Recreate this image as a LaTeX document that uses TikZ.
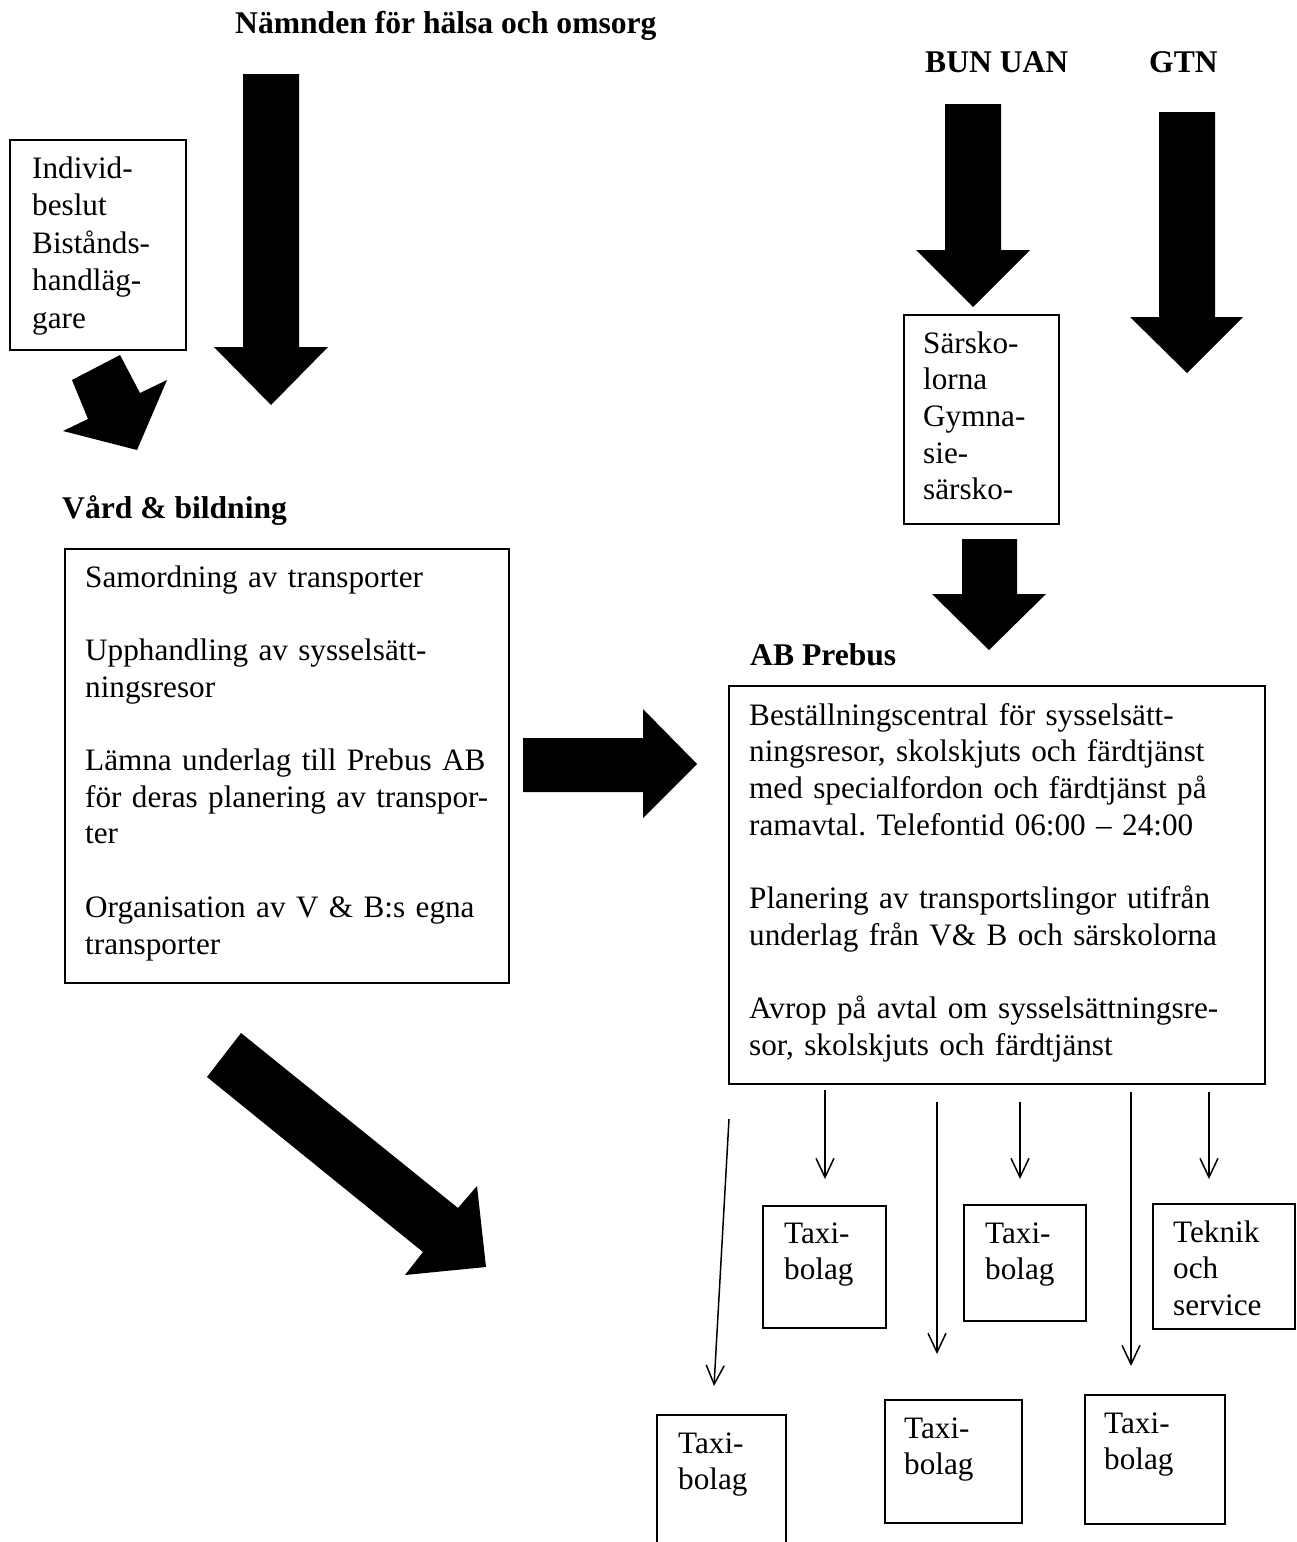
\documentclass[tikz,border=0pt]{standalone}
\usepackage{fontspec}
\setmainfont{Liberation Serif}
\usetikzlibrary{arrows.meta}
\setlength{\parindent}{0pt}
\frenchspacing
\newcommand{\myboxfont}{\fontsize{31.2}{36.7}\selectfont\frenchspacing\spaceskip 6.6pt plus 2pt minus 1pt\relax}
\newcommand{\myindfont}{\fontsize{31.2}{37.5}\selectfont\frenchspacing\spaceskip 6.6pt plus 2pt minus 1pt\relax}
\tikzset{
  box/.style={draw, line width=1.5pt, inner sep=0pt, anchor=north west},
  txt/.style={inner sep=0pt, anchor=base west, align=left, text width=560pt, font=\myboxfont},
  ttl/.style={inner sep=0pt, anchor=base west, font=\fontsize{31.6}{36.7}\selectfont\bfseries},
  fatarrow/.style={fill=black},
  thinarrow/.style={line width=1.5pt, -{Straight Barb[length=19pt,width=18pt,line width=1.5pt]}}
}
\begin{document}
\begin{tikzpicture}[x=1pt,y=-1pt]
\useasboundingbox[fill=white] (0,0) rectangle (1296,1542);

% titles
\node[ttl] (tnamnd) at (235,33) {Nämnden för hälsa och omsorg};
\node[ttl] (tbun) at (925,72) {BUN UAN};
\node[ttl] (tgtn) at (1149,72) {GTN};
\node[ttl] (tvb) at (62,518) {Vård \& bildning};
\node[ttl] (tpre) at (750,665) {AB Prebus};

% fat arrows
\fill[fatarrow] (243,74) -- (299,74) -- (299,347) -- (328,347) -- (271,405) -- (214,347) -- (243,347) -- cycle;
\fill[fatarrow] (945,104) -- (1001,104) -- (1001,250) -- (1030,250) -- (973,307) -- (916,250) -- (945,250) -- cycle;
\fill[fatarrow] (1159,112) -- (1215,112) -- (1215,317) -- (1243,317) -- (1187,373) -- (1130,317) -- (1159,317) -- cycle;
\fill[fatarrow] (962,539) -- (1017,539) -- (1017,594) -- (1046,594) -- (989,650) -- (932,594) -- (962,594) -- cycle;
\fill[fatarrow] (523,738) -- (643,738) -- (643,709) -- (697,764) -- (643,818) -- (643,792) -- (523,792) -- cycle;
\fill[fatarrow] (120,355) -- (140,393) -- (167,380) -- (137,450) -- (63,431) -- (88,419) -- (72,380) -- cycle;
\fill[fatarrow] (241,1033) -- (458,1208) -- (477,1186) -- (486,1267) -- (405,1275) -- (423,1252) -- (207,1077) -- cycle;

% boxes
\node[box, minimum width=176pt, minimum height=210pt] (indiv) at (9,139) {};
\node[txt, font=\myindfont] (indivt) at (32,178) {Individ-\\beslut\\Bistånds-\\handläg-\\gare};

\node[box, minimum width=155pt, minimum height=209pt] (sars) at (903,314) {};
\node[txt] (sarst) at (923,353) {Särsko-\\lorna\\Gymna-\\sie-\\särsko-};

\node[box, minimum width=444pt, minimum height=434pt] (vb) at (64,548) {};
\node[txt] (vbt) at (85,587) {Samordning av transporter\\[36.7pt]
Upphandling av sysselsätt-\\ningsresor\\[36.7pt]
Lämna underlag till Prebus AB\\för deras planering av transpor-\\ter\\[36.7pt]
Organisation av V \& B:s egna\\transporter};

\node[box, minimum width=536pt, minimum height=398pt] (pre) at (728,685) {};
\node[txt] (pret) at (749,725) {Beställningscentral för sysselsätt-\\ningsresor, skolskjuts och färdtjänst\\med specialfordon och färdtjänst på\\ramavtal. Telefontid 06:00 – 24:00\\[36.7pt]
Planering av transportslingor utifrån\\underlag från V\& B och särskolorna\\[36.7pt]
Avrop på avtal om sysselsättningsre-\\sor, skolskjuts och färdtjänst};

\node[box, minimum width=123pt, minimum height=122pt] (tx1) at (762,1205) {};
\node[txt] (tx1t) at (784,1243) {Taxi-\\bolag};
\node[box, minimum width=122pt, minimum height=116pt] (tx2) at (963,1204) {};
\node[txt] (tx2t) at (985,1243) {Taxi-\\bolag};
\node[box, minimum width=142pt, minimum height=125pt] (tek) at (1152,1203) {};
\node[txt] (tekt) at (1173,1242) {Teknik\\och\\service};
\node[box, minimum width=129pt, minimum height=150pt] (tx3) at (656,1414) {};
\node[txt] (tx3t) at (678,1453) {Taxi-\\bolag};
\node[box, minimum width=137pt, minimum height=123pt] (tx4) at (884,1399) {};
\node[txt] (tx4t) at (904,1438) {Taxi-\\bolag};
\node[box, minimum width=140pt, minimum height=129pt] (tx5) at (1084,1394) {};
\node[txt] (tx5t) at (1104,1433) {Taxi-\\bolag};

% thin arrows
\coordinate (a1s) at (729,1119); \coordinate (a1e) at (714,1386);
\coordinate (a2s) at (825,1090); \coordinate (a2e) at (825,1179);
\coordinate (a3s) at (937,1102); \coordinate (a3e) at (937,1354);
\coordinate (a4s) at (1020,1102); \coordinate (a4e) at (1020,1179);
\coordinate (a5s) at (1131,1092); \coordinate (a5e) at (1131,1366);
\coordinate (a6s) at (1209,1092); \coordinate (a6e) at (1209,1179);
\draw[thinarrow] (a1s) -- (a1e);
\draw[thinarrow] (a2s) -- (a2e);
\draw[thinarrow] (a3s) -- (a3e);
\draw[thinarrow] (a4s) -- (a4e);
\draw[thinarrow] (a5s) -- (a5e);
\draw[thinarrow] (a6s) -- (a6e);
\end{tikzpicture}
\end{document}
